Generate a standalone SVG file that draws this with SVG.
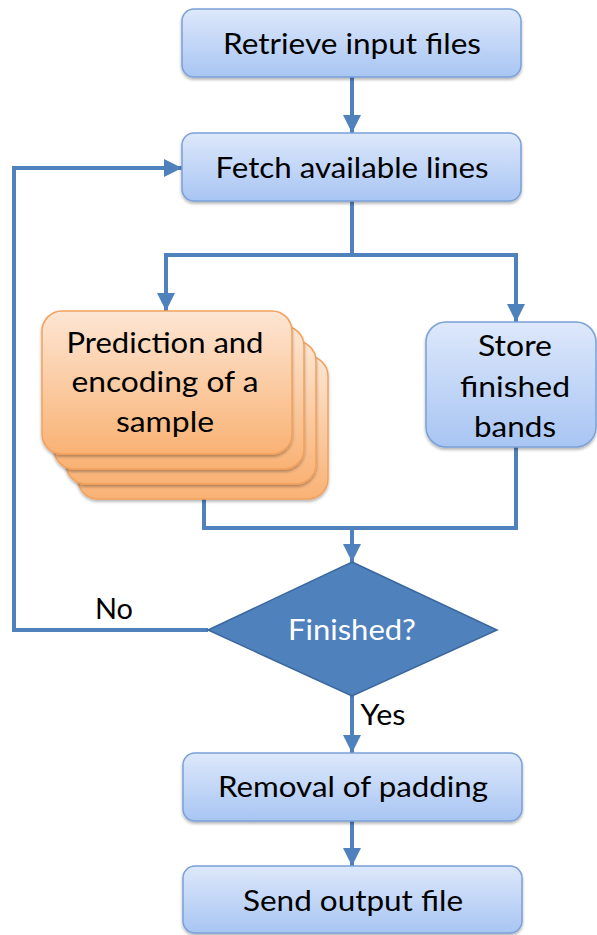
<svg xmlns="http://www.w3.org/2000/svg" width="597" height="935" viewBox="0 0 597 935">
  <defs>
    <linearGradient id="blueFill" x1="0" y1="0" x2="0" y2="1">
      <stop offset="0" stop-color="#dde8fb"/>
      <stop offset="1" stop-color="#a8c5f3"/>
    </linearGradient>
    <linearGradient id="orangeFill" x1="0" y1="0" x2="0" y2="1">
      <stop offset="0" stop-color="#fde6d4"/>
      <stop offset="1" stop-color="#f9b274"/>
    </linearGradient>
    <filter id="shadow" x="-10%" y="-10%" width="120%" height="130%">
      <feDropShadow dx="0" dy="2" stdDeviation="1.5" flood-color="#000" flood-opacity="0.3"/>
    </filter>
    <marker id="arrow" markerUnits="userSpaceOnUse" markerWidth="18" markerHeight="18" viewBox="0 0 18 18" refX="18" refY="9" orient="auto">
      <path d="M0,0 L18,9 L0,18 Z" fill="#4f81bd"/>
    </marker>
  </defs>
  <style>
    .box { fill: url(#blueFill); stroke: #7ba0d8; stroke-width: 1.5; filter: url(#shadow); }
    .card { fill: url(#orangeFill); stroke: #f2a15c; stroke-width: 1.5; filter: url(#shadow); }
    .label { font-family: Lato, "Open Sans", "Liberation Sans", sans-serif; font-size: 29px; fill: #000; text-anchor: middle; }
    .edge { fill: none; stroke: #4f81bd; stroke-width: 4; }
  </style>
  <rect width="597" height="935" fill="#fff"/>

  <g id="connectors">
    <path class="edge" d="M352,77 V133" marker-end="url(#arrow)"/>
    <path class="edge" d="M352,201 V255 M166,255 H516"/>
    <path class="edge" d="M166,253 V311" marker-end="url(#arrow)"/>
    <path class="edge" d="M516,253 V322" marker-end="url(#arrow)"/>
    <path class="edge" d="M204,499 V528 H516 M516,447 V530"/>
    <path class="edge" d="M352,526 V562" marker-end="url(#arrow)"/>
    <path class="edge" d="M208,630 H14 V168 H182" marker-end="url(#arrow)"/>
    <path class="edge" d="M352,696 V753" marker-end="url(#arrow)"/>
    <path class="edge" d="M352,821 V866" marker-end="url(#arrow)"/>
  </g>

  <g id="retrieve">
    <rect class="box" x="182" y="9" width="339" height="68" rx="12"/>
    <text class="label" x="352" y="54" textLength="258" lengthAdjust="spacingAndGlyphs">Retrieve input files</text>
  </g>

  <g id="fetch">
    <rect class="box" x="182" y="133" width="339" height="68" rx="12"/>
    <text class="label" x="352" y="178" textLength="273" lengthAdjust="spacingAndGlyphs">Fetch available lines</text>
  </g>

  <g id="predict">
    <rect class="card" x="78" y="356" width="250" height="143" rx="20"/>
    <rect class="card" x="66" y="341" width="250" height="143" rx="20"/>
    <rect class="card" x="54" y="326" width="250" height="143" rx="20"/>
    <rect class="card" x="42" y="311" width="250" height="143" rx="20"/>
    <text class="label" x="165" y="353" textLength="197" lengthAdjust="spacingAndGlyphs">Prediction and</text>
    <text class="label" x="165" y="392" textLength="187" lengthAdjust="spacingAndGlyphs">encoding of a</text>
    <text class="label" x="165" y="432" textLength="98" lengthAdjust="spacingAndGlyphs">sample</text>
  </g>

  <g id="store">
    <rect class="box" x="426" y="322" width="170" height="125" rx="20"/>
    <text class="label" x="515" y="356" textLength="74" lengthAdjust="spacingAndGlyphs">Store</text>
    <text class="label" x="515" y="397" textLength="110" lengthAdjust="spacingAndGlyphs">finished</text>
    <text class="label" x="515" y="437" textLength="82" lengthAdjust="spacingAndGlyphs">bands</text>
  </g>

  <g id="finished">
    <path d="M352,562 L497,630 L352,696 L208,630 Z" fill="#4f81bd" stroke="#3a679d" stroke-width="1.5"/>
    <text class="label" x="352" y="640" fill="#fff" style="fill:#fff" textLength="128" lengthAdjust="spacingAndGlyphs">Finished?</text>
  </g>

  <g id="edge-labels">
    <text class="label" x="114" y="619" textLength="38" lengthAdjust="spacingAndGlyphs">No</text>
    <text class="label" x="383" y="725" textLength="45" lengthAdjust="spacingAndGlyphs">Yes</text>
  </g>

  <g id="removal">
    <rect class="box" x="183" y="753" width="339" height="68" rx="12"/>
    <text class="label" x="353" y="797" textLength="270" lengthAdjust="spacingAndGlyphs">Removal of padding</text>
  </g>

  <g id="send">
    <rect class="box" x="183" y="866" width="339" height="67" rx="12"/>
    <text class="label" x="353" y="911" textLength="220" lengthAdjust="spacingAndGlyphs">Send output file</text>
  </g>
</svg>
